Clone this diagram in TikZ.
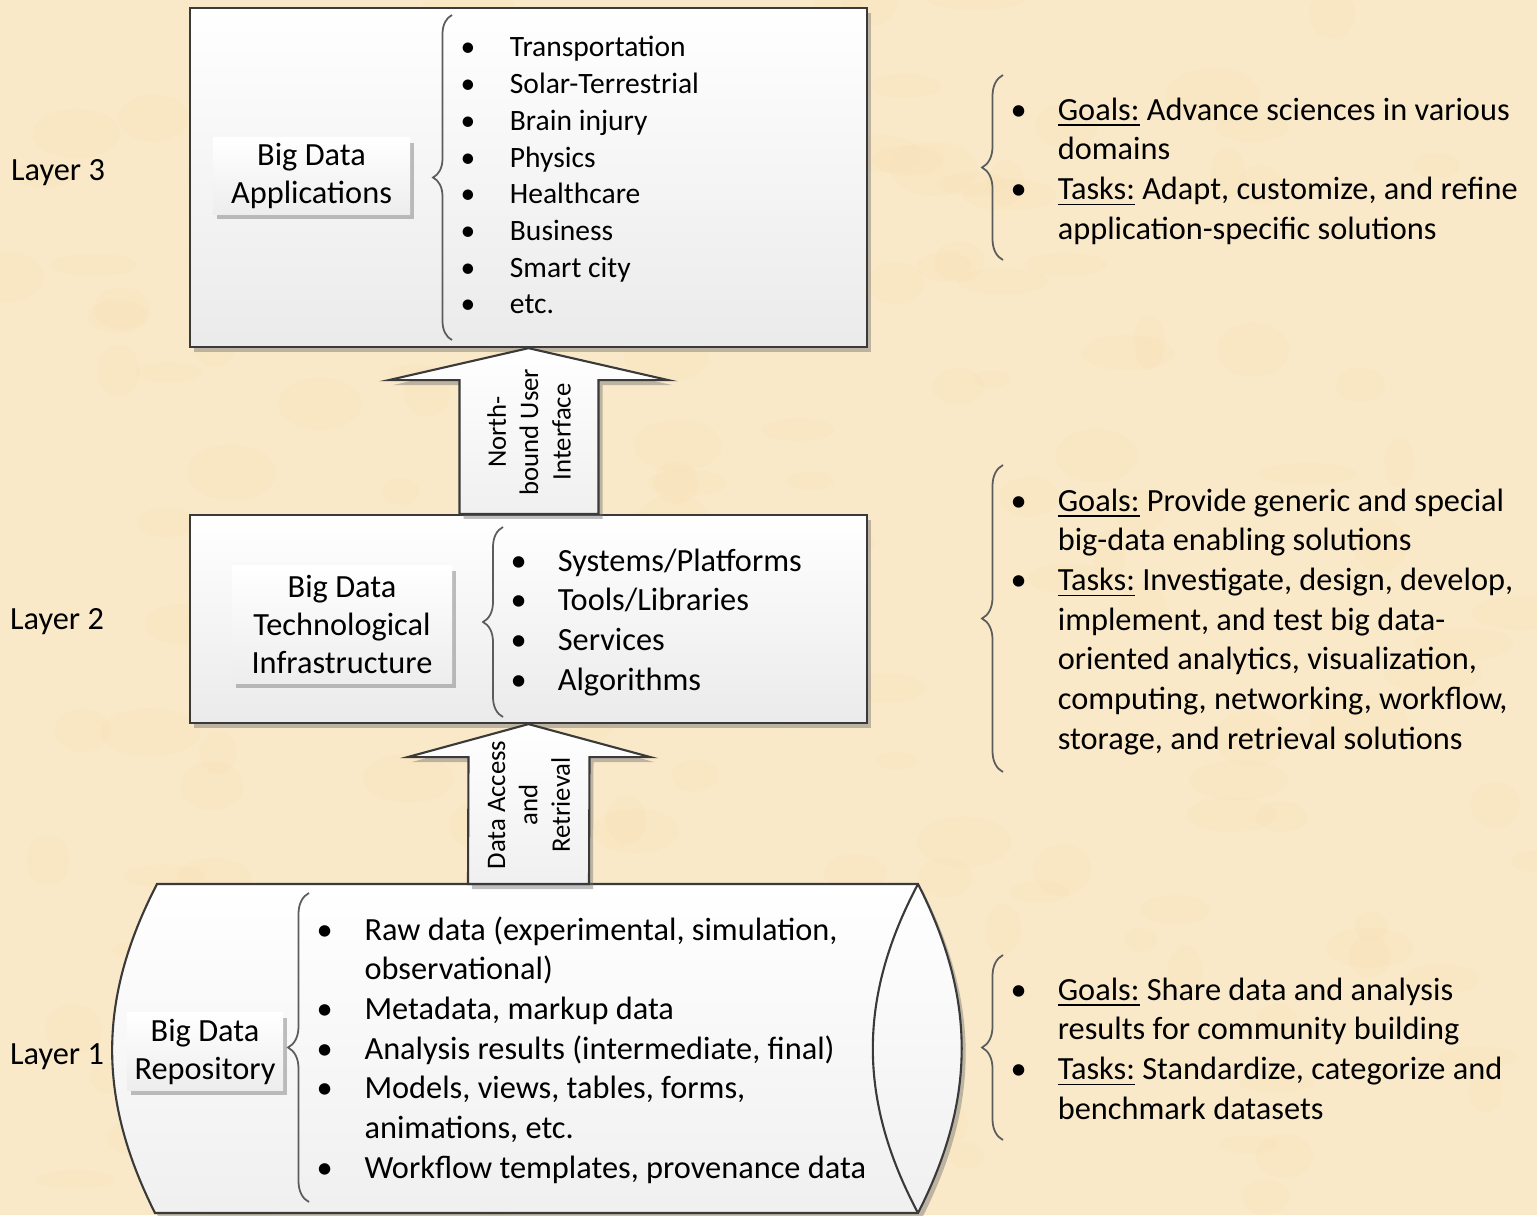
\documentclass[tikz,border=0pt]{standalone}
\usepackage{fontspec}
\setmainfont{Carlito}
\usetikzlibrary{calc,shadows,decorations.pathreplacing,positioning}

\definecolor{parchment}{HTML}{FAE9C8}
\definecolor{stain}{HTML}{E9C98E}
\definecolor{edge}{HTML}{3A3A3A}
\definecolor{bracegray}{HTML}{5C5C5C}

\tikzset{
	shade/.style={drop shadow={shadow xshift=.04cm, shadow yshift=-.05cm, opacity=.45, fill=black!55}},
	layerbox/.style={draw=edge, line width=.6pt, inner sep=0pt, top color=white, bottom color=black!8, shade},
	tagbox/.style={inner sep=0pt, align=center, top color=white, bottom color=black!7, shade, font=\fontsize{9.2}{10.8}\selectfont},
	bigarrow/.style={draw=edge, line width=.6pt, top color=white, bottom color=black!6, shade},
	arrowtext/.style={rotate=90, align=center, inner sep=0pt, font=\fontsize{7.6}{9.2}\selectfont},
	listbrace/.style={decorate, decoration={brace, amplitude=#1}, draw=bracegray, line width=.5pt},
	listbrace/.default=.2cm,
	itemlist/.style={anchor=base west, inner sep=0pt, font=\fontsize{9.2}{11.3}\selectfont},
	layertext/.style={inner sep=0pt, font=\fontsize{9.2}{11}\selectfont}
}

% bullet column for the lists
\newcommand{\bul}{\textbullet}

\begin{document}
\begin{tikzpicture}[x=.01cm, y=-.01cm]
	\useasboundingbox (0,0) rectangle (1537,1215);
	\fill[parchment] (0,0) rectangle (1537,1215);
	% mottled paper
	\pgfmathsetseed{7}
	\foreach \i in {1,...,180}
		\fill[stain, opacity=.06] ({rnd*1537},{rnd*1215}) ellipse[x radius={15+rnd*35}, y radius={8+rnd*20}];

	% the three layers
	\node[layerbox, minimum width=6.77cm, minimum height=3.39cm] (apps) at (528.5,177.5) {};
	\node[layerbox, minimum width=6.77cm, minimum height=2.08cm] (infra) at (528.5,619) {};
	\draw[bigarrow] (157,884) -- (918,884) to[bend left=27] (918,1213) -- (155,1213) to[bend left=27] (157,884) -- cycle;
	\draw[draw=edge, line width=.6pt] (918,884) to[bend right=28] (918,1213);
	\coordinate (repo) at (528,884);

	\node[layertext] (l3) at (58,173) {Layer 3};
	\node[layertext] (l2) at (57,622) {Layer 2};
	\node[layertext] (l1) at (57,1057) {Layer 1};

	\node[tagbox, minimum width=1.97cm, minimum height=.76cm] (appstag) at (311.5,176) {Big Data\\Applications};
	\node[tagbox, minimum width=2.2cm, minimum height=1.17cm] (infratag) at (342,624.5) {Big Data\\Technological\\Infrastructure};
	\node[tagbox, minimum width=1.56cm, minimum height=.77cm] (repotag) at (205,1051.5) {Big Data\\Repository};

	% lists inside the layers
	\draw[listbrace=.19cm] (452,340) -- (452,15);
	\node[itemlist, font=\fontsize{8.4}{10.44}\selectfont] (appslist) at (460,57) {\begin{tabular}[t]{@{}p{14pt}@{}l@{}}
		\bul & Transportation\\ \bul & Solar-Terrestrial\\ \bul & Brain injury\\ \bul & Physics\\
		\bul & Healthcare\\ \bul & Business\\ \bul & Smart city\\ \bul & etc.
	\end{tabular}};

	\draw[listbrace] (503,717) -- (503,527);
	\node[itemlist] (infralist) at (510,571) {\begin{tabular}[t]{@{}p{13.4pt}@{}l@{}}
		\bul & Systems/Platforms\\ \bul & Tools/Libraries\\ \bul & Services\\ \bul & Algorithms
	\end{tabular}};

	\draw[listbrace=.21cm] (309,1202) -- (309,893);
	\node[itemlist] (repolist) at (316,940) {\begin{tabular}[t]{@{}p{13.6pt}@{}l@{}}
		\bul & Raw data (experimental, simulation,\\ & observational)\\ \bul & Metadata, markup data\\
		\bul & Analysis results (intermediate, final)\\ \bul & Models, views, tables, forms,\\
		& animations, etc.\\ \bul & Workflow templates, provenance data
	\end{tabular}};

	% arrows between the layers
	\draw[bigarrow] (apps.south) -- ($(apps.south)+(140,32)$) -- ($(apps.south)+(70,32)$) -- ($(infra.north)+(70,0)$)
		-- ($(infra.north)+(-69,0)$) -- ($(apps.south)+(-69,32)$) -- ($(apps.south)+(-140,32)$) -- cycle;
	\node[arrowtext] (nbi) at (529,432) {North-\\bound User\\Interface};

	\draw[bigarrow] (infra.south) -- ($(infra.south)+(122,33)$) -- ($(infra.south)+(61,33)$) -- ($(repo)+(61,0)$)
		-- ($(repo)+(-60,0)$) -- ($(infra.south)+(-60,33)$) -- ($(infra.south)+(-121,33)$) -- cycle;
	\node[arrowtext] (dar) at (529,805) {Data Access\\and\\Retrieval};

	% goals and tasks
	\draw[listbrace=.21cm] (1003,260) -- (1003,75);
	\node[itemlist] (goals3) at (1010,120) {\begin{tabular}[t]{@{}p{13.4pt}@{}l@{}}
		\bul & \underline{Goals:} Advance sciences in various\\ & domains\\
		\bul & \underline{Tasks:} Adapt, customize, and refine\\ & application-specific solutions
	\end{tabular}};

	\draw[listbrace=.21cm] (1003,772) -- (1003,465);
	\node[itemlist] (goals2) at (1010,511) {\begin{tabular}[t]{@{}p{13.4pt}@{}l@{}}
		\bul & \underline{Goals:} Provide generic and special\\ & big-data enabling solutions\\
		\bul & \underline{Tasks:} Investigate, design, develop,\\ & implement, and test big data-\\
		& oriented analytics, visualization,\\ & computing, networking, workflow,\\ & storage, and retrieval solutions
	\end{tabular}};

	\draw[listbrace=.21cm] (1003,1140) -- (1003,955);
	\node[itemlist] (goals1) at (1010,1000) {\begin{tabular}[t]{@{}p{13.4pt}@{}l@{}}
		\bul & \underline{Goals:} Share data and analysis\\ & results for community building\\
		\bul & \underline{Tasks:} Standardize, categorize and\\ & benchmark datasets
	\end{tabular}};
\end{tikzpicture}
\end{document}
